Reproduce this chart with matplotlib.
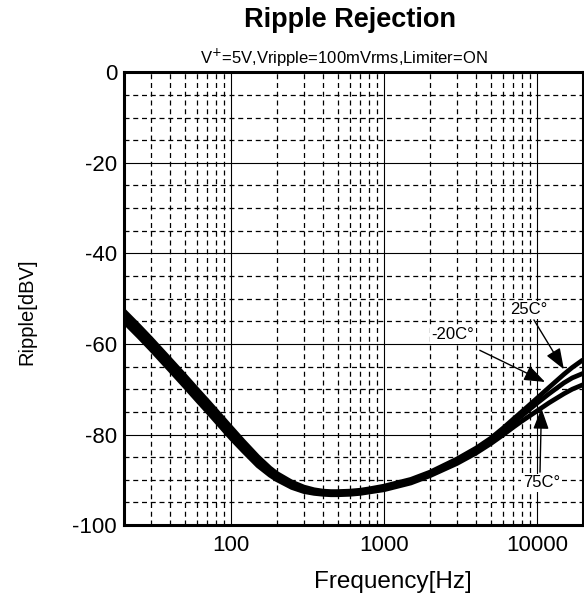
import matplotlib.pyplot as plt
import numpy as np
from matplotlib.ticker import FixedLocator, NullFormatter

plt.rcParams['font.family'] = ['Liberation Sans', 'DejaVu Sans']

# frequency points [Hz] and ripple [dBV]
freq = [20, 25, 30, 40, 50, 60, 70, 80, 100, 120, 150, 180, 200, 250, 300, 350, 400, 450,
        500, 600, 700, 800, 1000, 1500, 2000, 3000, 4000, 5000, 6000, 7000, 8000, 10000,
        12000, 15000, 17000, 20000]
ripple_25 = [-52.7, -56.0, -58.8, -63.4, -67.0, -70.0, -72.5, -74.7, -78.4, -81.4, -84.9, -87.4,
             -88.6, -90.5, -91.6, -92.2, -92.5, -92.6, -92.6, -92.5, -92.3, -92.0, -91.4, -89.9,
             -88.3, -85.4, -83.0, -80.8, -78.6, -76.6, -74.9, -72.0, -69.6, -66.7, -65.2, -63.5]
ripple_m20 = [-53.9, -57.2, -60.0, -64.6, -68.2, -71.2, -73.7, -75.9, -79.6, -82.5, -85.9, -88.2,
              -89.3, -91.1, -92.1, -92.6, -92.8, -92.9, -92.9, -92.8, -92.6, -92.3, -91.8, -90.3,
              -88.7, -85.9, -83.5, -81.3, -79.2, -77.4, -75.8, -73.1, -71.0, -68.6, -67.5, -66.5]
ripple_75 = [-55.1, -58.4, -61.2, -65.8, -69.4, -72.4, -74.9, -77.1, -80.8, -83.6, -86.9, -89.0,
             -90.0, -91.7, -92.6, -93.0, -93.2, -93.3, -93.3, -93.2, -93.0, -92.7, -92.2, -90.7,
             -89.1, -86.4, -84.1, -82.0, -80.1, -78.4, -77.0, -74.8, -73.0, -71.0, -70.0, -69.0]

yticks = [0, -20, -40, -60, -80, -100]
ytick_labels = ['0', '-20', '-40', '-60', '-80', '-100']
xticks = [100, 1000, 10000]
xtick_labels = ['100', '1000', '10000']

fig = plt.figure(figsize=(5.84, 6.12), dpi=100)
ax = fig.add_axes([0.2123, 0.142, 0.786, 0.740])

for vals in (ripple_25, ripple_m20, ripple_75):
    ax.plot(freq, vals, color='black', lw=3.4, solid_capstyle='butt', zorder=4)

ax.set_xscale('log')
ax.set_xlim(20, 20000)
ax.set_ylim(-100, 0)
ax.set_xticks(xticks)
ax.set_xticklabels(xtick_labels)
ax.set_yticks(yticks)
ax.set_yticklabels(ytick_labels)
ax.yaxis.set_minor_locator(FixedLocator(np.arange(-95, 0, 5)))
ax.xaxis.set_minor_formatter(NullFormatter())

ax.grid(which='major', color='black', lw=0.8, ls='-')
ax.grid(which='minor', color='black', lw=0.9, ls=(0, (4, 3)))
ax.tick_params(which='both', length=0, labelsize=16)
ax.tick_params(axis='y', pad=5)
ax.tick_params(axis='x', pad=7)
for s in ax.spines.values():
    s.set_linewidth(2.2)
    s.set_zorder(6)

# temperature labels and arrows
arrow = dict(arrowstyle='-|>,head_length=0.8,head_width=0.3', color='black', lw=1.0,
             mutation_scale=16, shrinkA=0, shrinkB=0)
box = dict(boxstyle='square,pad=0.1', fc='white', ec='none')
ax.annotate('', xy=(15000, -65.6), xytext=(9560, -54.7), arrowprops=arrow, zorder=5)
ax.annotate('', xy=(11300, -68.4), xytext=(4230, -61.4), arrowprops=arrow, zorder=5)
ax.annotate('', xy=(10700, -74.2), xytext=(10470, -88.3), arrowprops=arrow, zorder=5)
ax.text(6650, -52.5, '25C°', fontsize=12, ha='left', va='center', bbox=box, zorder=5)
ax.text(2050, -58.0, '-20C°', fontsize=12, ha='left', va='center', bbox=box, zorder=5)
ax.text(8100, -90.7, '75C°', fontsize=12, ha='left', va='center', bbox=box, zorder=5)

fig.text(0.600, 0.968, 'Ripple Rejection', fontsize=19.5, fontweight='bold', ha='center', va='center')
fig.text(0.589, 0.905, 'V$^{+}$=5V,Vripple=100mVrms,Limiter=ON', fontsize=12, ha='center', va='center')
fig.text(0.673, 0.049, 'Frequency[Hz]', fontsize=17.5, ha='center', va='center')
fig.text(0.046, 0.490, 'Ripple[dBV]', fontsize=14.5, ha='center', va='center', rotation=90)

fig.savefig('out.png', dpi=100)
